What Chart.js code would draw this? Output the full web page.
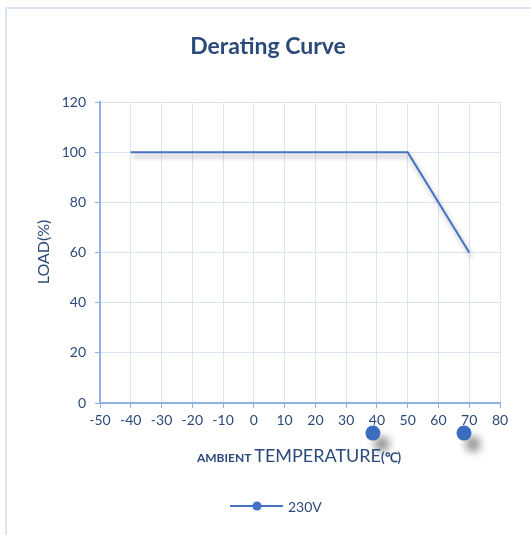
<!DOCTYPE html>
<html>
<head>
<meta charset="utf-8">
<script src="https://cdn.jsdelivr.net/npm/chart.js@4.4.0/dist/chart.umd.min.js"></script>
<style>
  html, body { margin: 0; padding: 0; background: #fff; overflow: hidden; }
  #frame { position: absolute; left: 5px; top: 7px; width: 700px; height: 700px; border: 2px solid #d9e3f3; }
  #chart { position: absolute; left: 0; top: 0; }
</style>
</head>
<body>
<div id="frame"></div>
<canvas id="chart" width="531" height="535"></canvas>
<script>
// Derating curve data
const temps = [-40, 50, 70];
const loads = [100, 100, 60];
const seriesLabel = '230V';

// stray marker blobs below the axis
const blobTemps = [38.7, 68.3];
const blobLoads = [-12, -12];

const xTickMin = -50, xTickMax = 80, xTickStep = 10;
const yTickMin = 0, yTickMax = 120, yTickStep = 20;

const titleText = 'Derating Curve';
const yTitleText = 'LOAD(%)';
const xTitleParts = ['AMBIENT ', 'TEMPERATURE', '(\u2103)'];

const LINE = '#4472c4';
const TEXT = '#2b4a7a';
const GRID = '#dae5f4';
const AXIS = '#8fb2e2';
const FONT = 'Lato';

const shadowPlugin = {
  id: 'shadows',
  beforeDatasetDraw(chart) {
    const ctx = chart.ctx;
    ctx.save();
    ctx.shadowColor = 'rgba(0,0,0,0.35)';
    ctx.shadowBlur = 5;
    ctx.shadowOffsetX = 2;
    ctx.shadowOffsetY = 4;
  },
  afterDatasetDraw(chart) {
    chart.ctx.restore();
  }
};

// points that sit outside the chart area are skipped by the controller,
// so draw the blobs here through the scales
const blobPlugin = {
  id: 'blobs',
  afterDatasetsDraw(chart) {
    const ctx = chart.ctx;
    const xs = chart.scales.x, ys = chart.scales.y;
    ctx.save();
    ctx.shadowColor = 'rgba(0,0,0,0.45)';
    ctx.shadowBlur = 8;
    ctx.shadowOffsetX = 9;
    ctx.shadowOffsetY = 11;
    ctx.fillStyle = '#3a6dbf';
    blobTemps.forEach((t, i) => {
      ctx.beginPath();
      ctx.arc(xs.getPixelForValue(t), ys.getPixelForValue(blobLoads[i]), 7.5, 0, Math.PI * 2);
      ctx.fill();
    });
    ctx.restore();
  }
};

const textPlugin = {
  id: 'texts',
  afterDraw(chart) {
    const ctx = chart.ctx;
    ctx.save();
    ctx.fillStyle = TEXT;

    // title
    ctx.font = `bold 23px ${FONT}`;
    ctx.textAlign = 'center';
    ctx.textBaseline = 'alphabetic';
    ctx.fillText(titleText, 268, 54);

    // y title
    ctx.save();
    ctx.translate(49, 252);
    ctx.rotate(-Math.PI / 2);
    ctx.font = `16px ${FONT}`;
    ctx.textBaseline = 'alphabetic';
    ctx.fillText(yTitleText, 0, 0);
    ctx.restore();

    // x title, mixed sizes
    const fonts = [`bold 12px ${FONT}`, `18px ${FONT}`, `bold 13px ${FONT}`];
    let w = 0;
    xTitleParts.forEach((p, i) => { ctx.font = fonts[i]; w += ctx.measureText(p).width; });
    let x = 299 - w / 2;
    ctx.textAlign = 'left';
    xTitleParts.forEach((p, i) => {
      ctx.font = fonts[i];
      ctx.fillText(p, x, 462);
      x += ctx.measureText(p).width;
    });

    // legend
    const ds = chart.data.datasets[0];
    ctx.strokeStyle = ds.borderColor;
    ctx.lineWidth = 2;
    ctx.beginPath();
    ctx.moveTo(230, 506);
    ctx.lineTo(283, 506);
    ctx.stroke();
    ctx.fillStyle = ds.borderColor;
    ctx.beginPath();
    ctx.arc(257, 506, 4.5, 0, Math.PI * 2);
    ctx.fill();
    ctx.fillStyle = TEXT;
    ctx.font = `14px ${FONT}`;
    ctx.textBaseline = 'middle';
    ctx.fillText(ds.label, 288, 507);
    ctx.restore();
  }
};

new Chart(document.getElementById('chart'), {
  type: 'scatter',
  data: {
    datasets: [{
      label: seriesLabel,
      data: temps.map((t, i) => ({ x: t, y: loads[i] })),
      showLine: true,
      borderColor: LINE,
      backgroundColor: LINE,
      borderWidth: 2,
      pointRadius: 0,
      tension: 0,
    }]
  },
  options: {
    responsive: false,
    animation: false,
    devicePixelRatio: 1,
    layout: { padding: { left: 0, top: 102, right: 31, bottom: 0 } },
    plugins: {
      legend: { display: false },
      title: { display: false },
      tooltip: { enabled: false },
    },
    scales: {
      x: {
        type: 'linear',
        min: xTickMin,
        max: xTickMax,
        ticks: { stepSize: xTickStep, color: TEXT, font: { family: FONT, size: 14 }, padding: 4, maxRotation: 0 },
        grid: { color: GRID, tickColor: AXIS, tickLength: 5 },
        border: { color: AXIS, width: 2 },
        afterFit: s => { s.height = 132; },
      },
      y: {
        min: yTickMin,
        max: yTickMax,
        ticks: { stepSize: yTickStep, color: TEXT, font: { family: FONT, size: 14 }, padding: 9 },
        grid: { color: GRID, tickColor: AXIS, tickLength: 5 },
        border: { color: AXIS, width: 2 },
        afterFit: s => { s.width = 100; },
      }
    }
  },
  plugins: [shadowPlugin, blobPlugin, textPlugin]
});
</script>
</body>
</html>
